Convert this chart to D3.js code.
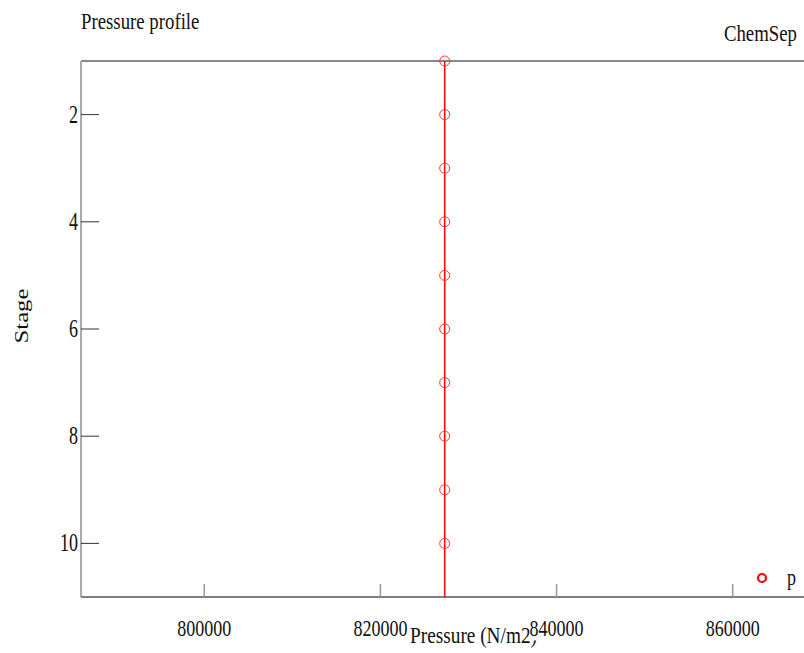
<!DOCTYPE html>
<html><head><meta charset="utf-8">
<script src="https://cdn.jsdelivr.net/npm/d3@7"></script>
<style>body{margin:0;background:#fff}svg{display:block}text{font-family:"Liberation Serif","Times New Roman",serif;fill:#111}</style>
</head><body>
<svg id="c" width="804" height="653"></svg>
<script>
const stages = [1,2,3,4,5,6,7,8,9,10];
const pressure = [827300,827300,827300,827300,827300,827300,827300,827300,827300,827300];
const xTicks = [800000,820000,840000,860000];
const yTicks = [2,4,6,8,10];

const svg = d3.select("#c");
const L = 81, T = 61, B = 597, R = 804;
const x = d3.scaleLinear().domain([786000, 868100]).range([L, R]);
const y = d3.scaleLinear().domain([1, 11]).range([T, B]);

function stxt(parent, px, py, s, str, anchor, size, rot){
  const g = parent.append("g").attr("transform",`translate(${px},${py}) scale(1,${s})` + (rot?` rotate(${rot})`:""));
  const t = g.append("text").attr("text-anchor",anchor||"start").attr("font-size",size||18).text(str);
  return {g,t};
}

// frame
svg.append("line").attr("x1",L).attr("x2",R).attr("y1",T).attr("y2",T).attr("stroke","#888").attr("stroke-width",2);
svg.append("line").attr("x1",L).attr("x2",L).attr("y1",T).attr("y2",B).attr("stroke","#aaa").attr("stroke-width",2);
svg.append("line").attr("x1",L).attr("x2",R).attr("y1",B).attr("y2",B).attr("stroke","#555").attr("stroke-width",1.5);

// y ticks
yTicks.forEach(v=>{
  svg.append("line").attr("x1",L).attr("x2",L+18).attr("y1",y(v)).attr("y2",y(v)).attr("stroke","#333").attr("stroke-width",1);
  stxt(svg, L-3, y(v)+8, 1.38, v, "end", 18);
});
// x ticks
xTicks.forEach(v=>{
  svg.append("line").attr("x1",x(v)).attr("x2",x(v)).attr("y1",B).attr("y2",B-13).attr("stroke","#999").attr("stroke-width",1.5);
});

// axis titles
stxt(svg, 473.5, 643, 1.2, "Pressure (N/m2)", "middle", 19.3);
stxt(svg, 28, 316, 1.37, "Stage", "middle", 18, -90);

// x tick labels with white backing
xTicks.forEach(v=>{
  const o = stxt(svg, x(v), 636, 1.27, v, "middle", 18);
  const bb = o.t.node().getBBox();
  o.g.insert("rect","text").attr("x",bb.x).attr("y",bb.y).attr("width",bb.width).attr("height",bb.height).attr("fill","#fff");
});

// titles
stxt(svg, 81, 29, 1.28, "Pressure profile", "start", 18.8);
stxt(svg, 797, 41, 1.28, "ChemSep", "end", 18.8);

// data line
svg.append("path").datum(stages)
  .attr("d", d3.line().x((d,i)=>x(pressure[i])).y(d=>y(d)))
  .attr("fill","none").attr("stroke","#f00").attr("stroke-width",1.5);
svg.append("line").attr("x1",x(pressure[9])).attr("x2",x(pressure[9])).attr("y1",y(10)).attr("y2",B).attr("stroke","#f00").attr("stroke-width",1.5);
svg.selectAll("circle.pt").data(stages).enter().append("circle").attr("class","pt")
  .attr("cx",(d,i)=>x(pressure[i])).attr("cy",d=>y(d)).attr("r",5).attr("fill","none").attr("stroke","#f33").attr("stroke-width",1);

// legend
svg.append("circle").attr("cx",762).attr("cy",578).attr("r",4).attr("fill","none").attr("stroke","#f00").attr("stroke-width",2.2);
stxt(svg, 787, 585, 1.3, "p", "start", 18);
</script>
</body></html>
